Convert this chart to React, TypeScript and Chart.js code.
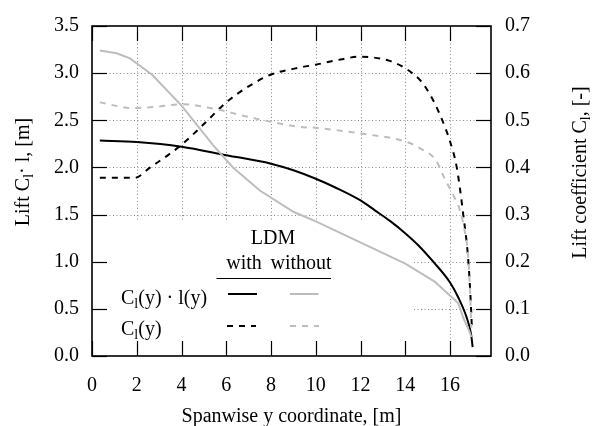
import React, { useEffect, useRef } from 'react';
import { Chart, registerables } from 'chart.js';

Chart.register(...registerables);

const FONT = '"Liberation Serif", "Times New Roman", serif';

// ---- data ----
const X_TICKS = [0, 2, 4, 6, 8, 10, 12, 14, 16];
const Y_TICKS = [0, 0.5, 1.0, 1.5, 2.0, 2.5, 3.0, 3.5];
const Y1_TICKS = [0, 0.1, 0.2, 0.3, 0.4, 0.5, 0.6, 0.7];

// C_l(y)·l(y), with LDM (left axis)
const LIFT_WITH_X = [0.35, 2, 4, 6, 8, 9, 10, 10.85, 12, 12.64, 13.33, 13.98, 14.6, 15.25, 16.0, 16.37, 16.74, 16.94, 17.01];
const LIFT_WITH_Y = [2.285, 2.27, 2.22, 2.13, 2.04, 1.97, 1.88, 1.79, 1.65, 1.545, 1.43, 1.305, 1.17, 1.0, 0.78, 0.62, 0.41, 0.23, 0.093];

// C_l(y)·l(y), without LDM (left axis)
const LIFT_WITHOUT_X = [0.35, 1.1, 1.7, 2.7, 4.0, 5.4, 6.3, 7.5, 9.0, 10.0, 14.0, 15.33, 16.37, 16.6, 16.85, 16.95];
const LIFT_WITHOUT_Y = [3.24, 3.21, 3.157, 2.98, 2.655, 2.24, 2.0, 1.755, 1.53, 1.427, 0.98, 0.786, 0.56, 0.4, 0.27, 0.2];

// C_l(y), with LDM (right axis)
const CL_WITH_X = [0.35, 1.9, 2.6, 4.0, 5.0, 6.0, 7.0, 8.0, 9.3, 10.0, 11.0, 12.0, 12.6, 13.3, 13.8, 14.2, 14.7, 15.1, 15.5, 16.0, 16.3, 16.59, 16.82, 16.94, 16.97];
const CL_WITH_Y = [0.378, 0.378, 0.4, 0.448, 0.492, 0.538, 0.572, 0.597, 0.612, 0.618, 0.628, 0.635, 0.633, 0.626, 0.616, 0.604, 0.583, 0.555, 0.517, 0.455, 0.4, 0.3, 0.2, 0.1, 0.065];

// C_l(y), without LDM (right axis)
const CL_WITHOUT_X = [0.35, 1.8, 2.7, 4.0, 5.5, 7.0, 9.3, 10.0, 12.0, 14.0, 14.65, 15.4, 15.7, 16.1, 16.44, 16.67, 16.82, 16.9, 16.95];
const CL_WITHOUT_Y = [0.538, 0.526, 0.528, 0.534, 0.524, 0.507, 0.486, 0.484, 0.472, 0.455, 0.441, 0.413, 0.382, 0.345, 0.309, 0.261, 0.206, 0.13, 0.06];

const X_TITLE = 'Spanwise y coordinate, [m]';
const Y_TITLE = [{ t: 'Lift C' }, { t: 'l', sub: true }, { t: '· l, [m]' }];
const Y1_TITLE = [{ t: 'Lift coefficient C' }, { t: 'l', sub: true }, { t: ', [-]' }];
const LEGEND_HEAD = 'LDM';
const LEGEND_COLS = ['with', 'without'];
const LEGEND_ROW1 = [{ t: 'C' }, { t: 'l', sub: true }, { t: '(y) · l(y)' }];
const LEGEND_ROW2 = [{ t: 'C' }, { t: 'l', sub: true }, { t: '(y)' }];

const BLACK = '#000000';
const GRAY = '#bdbdbd';
const DASH = [6, 6];

const zip = (xs: number[], ys: number[]) => xs.map((x, i) => ({ x, y: ys[i] }));

type Part = { t: string; sub?: boolean };

function richWidth(ctx: CanvasRenderingContext2D, parts: Part[]) {
  let w = 0;
  for (const p of parts) {
    ctx.font = `${p.sub ? 14 : 20}px ${FONT}`;
    w += ctx.measureText(p.t).width;
  }
  return w;
}

function drawRich(ctx: CanvasRenderingContext2D, parts: Part[], x: number, y: number) {
  let cx = x;
  ctx.textBaseline = 'alphabetic';
  ctx.textAlign = 'left';
  for (const p of parts) {
    ctx.font = `${p.sub ? 14 : 20}px ${FONT}`;
    ctx.fillText(p.t, cx, p.sub ? y + 4 : y);
    cx += ctx.measureText(p.t).width;
  }
}

const framePlugin = {
  id: 'frame',
  beforeDatasetsDraw(chart: any) {
    const { ctx, chartArea: a, scales } = chart;
    const xs = scales.x;
    const ys = scales.y;
    ctx.save();
    // dotted grid
    ctx.strokeStyle = '#8a8a8a';
    ctx.lineWidth = 1;
    ctx.setLineDash([1, 2.5]);
    for (const v of X_TICKS) {
      const px = Math.round(xs.getPixelForValue(v)) + 0.5;
      if (px <= a.left + 2 || px >= a.right - 2) continue;
      ctx.beginPath();
      ctx.moveTo(px, a.top);
      ctx.lineTo(px, a.bottom);
      ctx.stroke();
    }
    for (const v of Y_TICKS) {
      const py = Math.round(ys.getPixelForValue(v)) + 0.5;
      if (py <= a.top + 2 || py >= a.bottom - 2) continue;
      ctx.beginPath();
      ctx.moveTo(a.left, py);
      ctx.lineTo(a.right, py);
      ctx.stroke();
    }
    ctx.setLineDash([]);
    // opaque key box
    ctx.fillStyle = '#ffffff';
    ctx.fillRect(a.left, 222, 413 - a.left, a.bottom - 222);
    // tick marks (inward, mirrored)
    ctx.strokeStyle = BLACK;
    ctx.lineWidth = 1.2;
    const TL = 15;
    for (const v of X_TICKS) {
      const px = Math.round(xs.getPixelForValue(v)) + 0.5;
      ctx.beginPath();
      ctx.moveTo(px, a.bottom);
      ctx.lineTo(px, a.bottom - TL);
      ctx.moveTo(px, a.top);
      ctx.lineTo(px, a.top + TL);
      ctx.stroke();
    }
    for (const v of Y_TICKS) {
      const py = Math.round(ys.getPixelForValue(v)) + 0.5;
      ctx.beginPath();
      ctx.moveTo(a.left, py);
      ctx.lineTo(a.left + TL, py);
      ctx.stroke();
    }
    const y1 = scales.y1;
    for (const v of Y1_TICKS) {
      const py = Math.round(y1.getPixelForValue(v)) + 0.5;
      ctx.beginPath();
      ctx.moveTo(a.right, py);
      ctx.lineTo(a.right - TL, py);
      ctx.stroke();
    }
    // frame
    ctx.lineWidth = 1.6;
    ctx.strokeRect(a.left, a.top, a.right - a.left, a.bottom - a.top);
    ctx.restore();
  },
  afterDraw(chart: any) {
    const { ctx, chartArea: a } = chart;
    ctx.save();
    ctx.fillStyle = BLACK;
    // x title
    ctx.font = `20px ${FONT}`;
    ctx.textAlign = 'center';
    ctx.textBaseline = 'alphabetic';
    ctx.fillText(X_TITLE, (a.left + a.right) / 2, 421.5);
    // left title
    ctx.save();
    ctx.translate(28.5, 172);
    ctx.rotate(-Math.PI / 2);
    drawRich(ctx, Y_TITLE, -richWidth(ctx, Y_TITLE) / 2, 0);
    ctx.restore();
    // right title
    ctx.save();
    ctx.translate(585.5, 172.5);
    ctx.rotate(-Math.PI / 2);
    drawRich(ctx, Y1_TITLE, -richWidth(ctx, Y1_TITLE) / 2, 0);
    ctx.restore();

    // key
    ctx.font = `20px ${FONT}`;
    ctx.textAlign = 'center';
    ctx.textBaseline = 'alphabetic';
    ctx.fillText(LEGEND_HEAD, 273, 243.5);
    ctx.fillText(LEGEND_COLS[0], 244, 268.5);
    ctx.fillText(LEGEND_COLS[1], 301, 268.5);
    ctx.strokeStyle = BLACK;
    ctx.lineWidth = 1.2;
    ctx.beginPath();
    ctx.moveTo(216.5, 278.5);
    ctx.lineTo(331, 278.5);
    ctx.stroke();
    drawRich(ctx, LEGEND_ROW1, 121, 303.5);
    drawRich(ctx, LEGEND_ROW2, 121, 335);
    const sample = (x0: number, x1: number, y: number, color: string, dash: number[]) => {
      ctx.strokeStyle = color;
      ctx.lineWidth = 2;
      ctx.setLineDash(dash);
      ctx.beginPath();
      ctx.moveTo(x0, y);
      ctx.lineTo(x1, y);
      ctx.stroke();
      ctx.setLineDash([]);
    };
    sample(228, 257, 294, BLACK, []);
    sample(290, 318.5, 294, GRAY, []);
    sample(227, 256, 326, BLACK, DASH);
    sample(290, 319, 326, GRAY, DASH);
    ctx.restore();
  },
};

export default function App() {
  const ref = useRef<HTMLCanvasElement | null>(null);
  useEffect(() => {
    if (!ref.current) return;
    const tickFont = { family: FONT, size: 20 };
    const chart = new Chart(ref.current, {
      type: 'line',
      data: {
        datasets: [
          {
            data: zip(CL_WITHOUT_X, CL_WITHOUT_Y),
            yAxisID: 'y1',
            borderColor: GRAY,
            borderWidth: 2,
            borderDash: DASH,
            pointRadius: 0,
            cubicInterpolationMode: 'monotone',
          },
          {
            data: zip(LIFT_WITHOUT_X, LIFT_WITHOUT_Y),
            yAxisID: 'y',
            borderColor: GRAY,
            borderWidth: 2,
            pointRadius: 0,
            tension: 0,
          },
          {
            data: zip(CL_WITH_X, CL_WITH_Y),
            yAxisID: 'y1',
            borderColor: BLACK,
            borderWidth: 2,
            borderDash: DASH,
            pointRadius: 0,
            cubicInterpolationMode: 'monotone',
          },
          {
            data: zip(LIFT_WITH_X, LIFT_WITH_Y),
            yAxisID: 'y',
            borderColor: BLACK,
            borderWidth: 2,
            pointRadius: 0,
            cubicInterpolationMode: 'monotone',
          },
        ],
      },
      options: {
        animation: false,
        responsive: false,
        maintainAspectRatio: false,
        devicePixelRatio: 1,
        layout: { padding: { top: 18, left: 0, right: 0, bottom: 0 } },
        plugins: { legend: { display: false }, tooltip: { enabled: false } },
        scales: {
          x: {
            type: 'linear',
            min: 0,
            max: 17.83,
            grid: { display: false, drawTicks: false },
            border: { display: false },
            afterBuildTicks: (s: any) => { s.ticks = X_TICKS.map((v) => ({ value: v })); },
            afterFit: (s: any) => { s.height = 70; },
            ticks: { font: tickFont, color: BLACK, padding: 17.5, maxRotation: 0, autoSkip: false, callback: (v: any) => String(v) },
          },
          y: {
            type: 'linear',
            position: 'left',
            min: 0,
            max: 3.5,
            grid: { display: false, drawTicks: false },
            border: { display: false },
            afterBuildTicks: (s: any) => { s.ticks = Y_TICKS.map((v) => ({ value: v })); },
            afterFit: (s: any) => { s.width = 92; },
            ticks: { font: tickFont, color: BLACK, padding: 13, autoSkip: false, callback: (v: any) => Number(v).toFixed(1) },
          },
          y1: {
            type: 'linear',
            position: 'right',
            min: 0,
            max: 0.7,
            grid: { display: false, drawTicks: false },
            border: { display: false },
            afterBuildTicks: (s: any) => { s.ticks = Y1_TICKS.map((v) => ({ value: v })); },
            afterFit: (s: any) => { s.width = 104; },
            ticks: { font: tickFont, color: BLACK, padding: 14, autoSkip: false, callback: (v: any) => Number(v).toFixed(1) },
          },
        },
      },
      plugins: [framePlugin],
    } as any);
    return () => chart.destroy();
  }, []);
  return (
    <div style={{ position: 'fixed', left: 0, top: 0, width: 595, height: 426, background: '#fff' }}>
      <canvas ref={ref} width={595} height={426} />
    </div>
  );
}
